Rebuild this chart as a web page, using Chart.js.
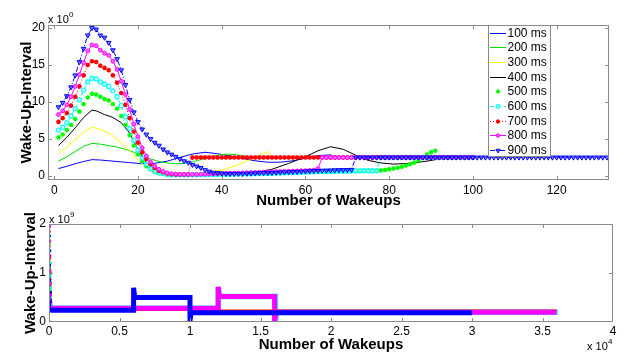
<!DOCTYPE html>
<html><head><meta charset="utf-8">
<script src="https://cdn.jsdelivr.net/npm/chart.js@4.4.0/dist/chart.umd.min.js"></script>
<style>
html,body{margin:0;padding:0;background:#fff;width:624px;height:352px;overflow:hidden}
canvas{position:absolute;left:0}
#c1{top:0}
#c2{top:205px}
</style></head>
<body>
<canvas id="c1" width="624" height="212"></canvas>
<canvas id="c2" width="624" height="147"></canvas>
<script>
// ---------- DATA (top panel) ----------
const seriesNames = ['100 ms','200 ms','300 ms','400 ms','500 ms','600 ms','700 ms','800 ms','900 ms'];
const xTicksTop = [0,20,40,60,80,100,120];
const yTicksTop = [0,5,10,15,20];

// line-only series: sparse samples (x, y)
const l100x = [1,3,5,7,9,11,13,15,18,21,24,27,30,33,36,39,42,45,48,51,54,57,60,63,66,67,100];
const l100y = [1.0,1.3,1.65,1.95,2.2,2.15,2.05,1.95,1.8,1.65,1.7,2.0,2.5,2.95,3.2,3.0,2.7,2.35,2.05,1.85,1.85,2.05,2.4,2.75,2.85,2.5,2.5];
const l200x = [1,3,5,7,9,11,13,15,17,19,21,23,25,27,29,31,33,35,37,39,41,43,45,47,100];
const l200y = [2.0,2.6,3.3,4.0,4.4,4.3,4.1,3.9,3.6,3.2,2.7,2.3,1.95,1.75,1.65,1.7,1.9,2.2,2.5,2.8,2.95,2.9,2.7,2.5,2.5];
const l300x = [1,3,5,7,9,11,13,15,17,19,21,23,25,28,32,36,40,43,46,49,51,52,100];
const l300y = [3.0,3.9,4.9,5.9,6.6,6.3,5.8,5.0,4.0,2.8,1.6,0.9,0.5,0.3,0.3,0.45,0.8,1.3,2.0,2.8,3.3,2.5,2.5];
const l400x = [1,3,5,7,9,10,12,14,16,18,20,22,24,26,28,32,38,44,48,52,56,60,63,66,69,72,75,78,81,85,89,92,94,95,96,100];
const l400y = [4.1,5.2,6.5,7.9,8.9,8.8,8.3,7.9,7.2,5.8,3.6,1.8,0.9,0.5,0.3,0.15,0.15,0.25,0.45,0.9,1.7,2.6,3.4,3.95,3.6,2.8,2.1,1.75,1.6,1.7,2.0,2.3,2.6,2.75,2.5,2.5];

// marker series: one value per wakeup (x = 1, 2, 3, ...)
const m500 = [5.2,5.6,6.2,6.9,7.7,8.7,9.7,10.6,11.1,11.0,
 10.7,10.4,10.2,9.7,9.1,8.1,6.9,5.5,4.1,2.9,
 2.0,1.3,0.9,0.6,0.4,0.3,0.2,0.15,0.15,0.15,
 0.15,0.15,0.16,0.17,0.18,0.19,0.2,0.2,0.21,0.22,
 0.23,0.24,0.25,0.26,0.27,0.28,0.29,0.3,0.31,0.32,
 0.34,0.36,0.38,0.4,0.42,0.44,0.46,0.48,0.5,0.52,
 0.54,0.56,0.58,0.6,0.6,0.62,0.62,0.64,0.64,0.66,
 0.66,0.68,0.68,0.7,0.7,0.7,0.7,0.75,0.8,0.9,
 1.0,1.1,1.25,1.4,1.6,1.8,2.1,2.5,2.9,3.2,3.4];
const m600 = [6.2,6.6,7.2,8.1,9.1,10.3,11.6,12.7,13.2,13.1,
 12.7,12.4,12.1,11.5,10.7,9.5,8.0,6.4,4.8,3.5,
 2.4,1.6,1.0,0.6,0.4,0.3,0.2,0.15,0.15,0.15,
 0.15,0.15,0.16,0.17,0.18,0.19,0.2,0.2,0.21,0.22,
 0.23,0.24,0.25,0.26,0.27,0.28,0.29,0.3,0.31,0.32,
 0.34,0.36,0.38,0.4,0.42,0.44,0.46,0.48,0.5,0.52,
 0.54,0.56,0.58,0.6,0.6,0.62,0.62,0.64,0.64,0.66,
 0.66,0.68,0.68,0.7,0.7,0.7,0.7,2.5,2.5,2.5,
 2.5,2.5,2.5,2.5,2.5,2.5,2.5,2.5,2.5,2.5,
 2.5,2.5,2.5,2.5,2.5,2.5,2.5,2.5,2.5,2.5];
const m700 = [7.3,7.8,8.5,9.5,10.7,12.1,13.6,15.0,15.5,15.4,
 14.9,14.6,14.3,13.6,12.6,11.2,9.6,7.8,6.0,4.5,
 3.2,2.3,1.6,1.1,0.7,0.5,0.35,0.25,0.2,0.2,
 0.2,0.2,2.5,2.5,2.5,2.5,2.5,2.5,2.5,2.5,
 2.5,2.5,2.5,2.5,2.5,2.5,2.5,2.5,2.5,2.5,
 2.5,2.5,2.5,2.5,2.5,2.5,2.5,2.5,2.5,2.5,
 2.5,2.5,2.5,2.5,2.5,2.5,2.5,2.5,2.5,2.5,
 2.5,2.5,2.5,2.5,2.5,2.5,2.5,2.5,2.5,2.5,
 2.5,2.5,2.5,2.5,2.5,2.5,2.5,2.5,2.5,2.5,
 2.5,2.5,2.5,2.5,2.5,2.5,2.5,2.5,2.5,2.5];
const m800 = [8.3,8.8,9.6,10.7,12.1,13.7,15.3,16.9,17.7,17.6,
 17.0,16.6,16.3,15.5,14.4,12.8,11.0,9.0,7.0,5.3,
 3.8,2.7,1.9,1.3,0.9,0.6,0.4,0.3,0.25,0.2,
 0.2,0.2,0.2,0.2,0.22,0.24,0.26,0.28,0.3,0.32,
 0.34,0.36,0.38,0.4,0.42,0.44,0.46,0.48,0.5,0.52,
 0.54,0.56,0.58,0.6,0.62,0.64,0.66,0.68,0.7,0.72,
 0.75,0.8,1.0,2.5,2.5,2.5,2.5,2.5,2.5,2.5,
 2.5,2.5,2.5,2.5,2.5,2.5,2.5,2.5,2.5,2.5,
 2.5,2.5,2.5,2.5,2.5,2.5,2.5,2.5,2.5,2.5,
 2.5,2.5,2.5,2.5,2.5,2.5,2.5,2.5,2.5,2.5];
const m900 = [9.3,9.9,10.8,12.0,13.6,15.4,17.2,19.0,20.0,19.8,
 19.0,18.7,18.0,17.0,15.8,14.3,12.3,10.3,8.6,7.3,
 6.3,5.6,5.0,4.5,4.1,3.6,3.2,2.9,2.6,2.3,
 2.0,1.8,1.5,1.3,1.1,0.8,0.6,0.45,0.4,0.35,
 0.3,0.3,0.3,0.3,0.3,0.32,0.34,0.36,0.38,0.4,
 0.42,0.44,0.46,0.48,0.5,0.52,0.55,0.58,0.6,0.62,
 0.65,0.68,0.7,0.72,0.74,0.76,0.78,0.8,0.8,0.82,
 0.84,2.5,2.5,2.5,2.5,2.5,2.5,2.5,2.5,2.5,
 2.5,2.5,2.5,2.5,2.5,2.5,2.5,2.5,2.5,2.5,
 2.5,2.5,2.5,2.5,2.5,2.5,2.5,2.5,2.5,2.5,
 2.5,2.5,2.5,2.5,2.5,2.5,2.5,2.5,2.5,2.5,
 2.5,2.5,2.5,2.5,2.5,2.5,2.5,2.5,2.5,2.5,
 2.5,2.5,2.5,2.5,2.5,2.5,2.5,2.5,2.5,2.5,
 2.5,2.5];

// ---------- DATA (bottom panel, x in wakeups, y in units of 1e9) ----------
const xTicksBot = [0,5000,10000,15000,20000,25000,30000,35000,40000];
const yTicksBot = [0,1e9,2e9];
const b100x = [0,10,20,30,45,60,80,100,4000];   const b100y = [0.9,0.75,0.6,0.5,0.42,0.35,0.3,0.25,0.25];
const b200x = [0,10,20,30,45,60,80,100,4000];   const b200y = [1.1,0.95,0.8,0.65,0.5,0.4,0.32,0.25,0.25];
const b300x = [0,10,20,30,45,60,80,100,4000];   const b300y = [1.3,1.05,0.85,0.7,0.55,0.42,0.33,0.25,0.25];
const b400x = [0,10,20,30,45,60,80,100,4000];   const b400y = [1.45,1.2,1.0,0.8,0.6,0.45,0.35,0.25,0.25];
const b500x = [0,10,20,30,45,60,80,100,4000];   const b500y = [1.6,1.35,1.1,0.85,0.65,0.5,0.35,0.25,0.25];
const b600x = [0,10,20,30,45,60,80,100,12000,12000,12080,16060,16060,16140,36080];
const b600y = [1.75,1.45,1.2,0.95,0.7,0.5,0.38,0.28,0.28,0.7,0.52,0.52,0.02,0.2,0.2];
const b700x = [0,10,20,30,45,60,80,100,36000];
const b700y = [1.85,1.55,1.3,1.0,0.75,0.55,0.4,0.24,0.24];
const b800x = [0,10,20,30,45,60,80,100,12000,12000,12080,16000,16000,16080,36000];
const b800y = [1.95,1.65,1.35,1.05,0.8,0.55,0.4,0.28,0.28,0.72,0.52,0.52,0.0,0.2,0.2];
const b900x = [0,0,10,20,30,45,60,80,100,6000,6000,6080,10000,10000,10080,30000];
const b900y = [0,2.0,1.75,1.45,1.15,0.85,0.6,0.4,0.24,0.24,0.7,0.5,0.5,0.02,0.19,0.19];

// ---------- STYLE ----------
const FONT = '"Liberation Sans", Arial, Helvetica, sans-serif';
Chart.defaults.font.family = FONT;
Chart.defaults.color = '#000';

const colors = ['#0000ff','#00e000','#ffff00','#000000','#00ff00','#00ffff','#ff0000','#ff00ff','#0000ff'];
const toXY = (xs, ys, k) => xs.map((x, i) => ({x: x, y: ys[i] * (k || 1)}));
const idx = (arr) => arr.map((v, i) => ({x: i + 1, y: v}));

const topDatasets = [
  {label: seriesNames[0], data: toXY(l100x, l100y), borderColor: colors[0], borderWidth: 1, pointRadius: 0},
  {label: seriesNames[1], data: toXY(l200x, l200y), borderColor: colors[1], borderWidth: 1, pointRadius: 0},
  {label: seriesNames[2], data: toXY(l300x, l300y), borderColor: colors[2], borderWidth: 1, pointRadius: 0},
  {label: seriesNames[3], data: toXY(l400x, l400y), borderColor: colors[3], borderWidth: 1, pointRadius: 0},
  {label: seriesNames[4], data: idx(m500), showLine: false, borderColor: colors[4], backgroundColor: colors[4],
    pointStyle: 'star', pointRadius: 2.2, pointBorderWidth: 1.5, pointBorderColor: colors[4]},
  {label: seriesNames[5], data: idx(m600), borderColor: colors[5], borderWidth: 1, borderDash: [4, 3],
    pointStyle: 'circle', pointRadius: 2.1, pointBorderWidth: 1.1, pointBackgroundColor: 'rgba(200,255,255,0.7)', pointBorderColor: colors[5]},
  {label: seriesNames[6], data: idx(m700), borderColor: colors[6], borderWidth: 1, borderDash: [1, 2],
    pointStyle: 'star', pointRadius: 2.3, pointBorderWidth: 1.4, pointBorderColor: colors[6], pointBackgroundColor: colors[6]},
  {label: seriesNames[7], data: idx(m800), borderColor: colors[7], borderWidth: 1,
    pointStyle: 'circle', pointRadius: 1.9, pointBorderWidth: 1, pointBackgroundColor: '#ff66ff', pointBorderColor: colors[7]},
  {label: seriesNames[8], data: idx(m900), borderColor: colors[8], borderWidth: 1, borderDash: [5, 2, 1, 2],
    pointStyle: 'triangle', rotation: 180, pointRadius: 2.7, pointBorderWidth: 1, pointBackgroundColor: 'rgba(90,90,255,0.7)', pointBorderColor: colors[8]}
];
topDatasets.forEach((d, i) => { d.order = 9 - i; d.fill = false; d.tension = 0; });

const E9 = 1e9;
const botWidths = [2, 2, 2, 2, 2, 5.5, 1.5, 5, 5];
const botDatasets = [b100x, b200x, b300x, b400x, b500x, b600x, b700x, b800x, b900x].map((xs, i) => {
  const ys = [b100y, b200y, b300y, b400y, b500y, b600y, b700y, b800y, b900y][i];
  const w = botWidths[i];
  return {
    label: seriesNames[i], data: toXY(xs, ys, E9), borderColor: colors[i], borderWidth: w,
    order: 9 - i, fill: false, tension: 0, borderJoinStyle: 'miter', borderCapStyle: 'butt',
    segment: {borderWidth: c => (c.p1.parsed.x < 150 ? 1 : w)},
    pointRadius: c => (c.raw && c.raw.x < 150 ? 1.8 : 0),
    pointStyle: i === 8 ? 'triangle' : (i === 6 || i === 4 ? 'star' : 'circle'),
    rotation: i === 8 ? 180 : 0,
    pointBackgroundColor: colors[i], pointBorderColor: colors[i], pointBorderWidth: 1
  };
});

// ---------- PLUGINS ----------
const matlabBox = {
  id: 'matlabBox',
  afterDatasetsDraw(chart, args, opts) {
    if (!opts.legend) return;
    const ctx = chart.ctx;
    const L = opts.legend;
    ctx.save();
    ctx.fillStyle = '#fff';
    ctx.fillRect(L.x, L.y, L.w, L.h);
    ctx.strokeStyle = '#8a8a8a'; ctx.lineWidth = 1; ctx.setLineDash([]);
    ctx.strokeRect(L.x + 0.5, L.y + 0.5, L.w, L.h);
    ctx.font = '12px ' + FONT;
    ctx.textBaseline = 'middle'; ctx.textAlign = 'left';
    chart.data.datasets.forEach((ds, i) => {
      const y = Math.round(L.y0 + i * L.dy) + 0.5;
      if (ds.showLine !== false) {
        ctx.strokeStyle = ds.borderColor; ctx.lineWidth = 1;
        ctx.setLineDash(ds.borderDash || []);
        ctx.beginPath(); ctx.moveTo(L.x + 2, y); ctx.lineTo(L.x + 18, y); ctx.stroke();
      }
      ctx.setLineDash([]);
      const r = typeof ds.pointRadius === 'number' ? ds.pointRadius : 0;
      if (r > 0 && Chart.helpers && Chart.helpers.drawPoint) {
        ctx.fillStyle = ds.pointBackgroundColor || ds.backgroundColor || ds.borderColor;
        ctx.strokeStyle = ds.pointBorderColor || ds.borderColor;
        ctx.lineWidth = ds.pointBorderWidth || 1;
        Chart.helpers.drawPoint(ctx, {pointStyle: ds.pointStyle, rotation: ds.rotation || 0, radius: r * 0.9, borderWidth: ds.pointBorderWidth || 1}, L.x + 10, y);
      }
      ctx.fillStyle = '#000';
      ctx.fillText(ds.label, L.x + 19.5, y);
    });
    ctx.restore();
  },
  afterDraw(chart, args, opts) {
    const {ctx, chartArea: a, scales: {x, y}} = chart;
    ctx.save();
    ctx.strokeStyle = '#8a8a8a'; ctx.lineWidth = 1; ctx.setLineDash([]);
    ctx.strokeRect(a.left + 0.5, a.top + 0.5, a.right - a.left - 1, a.bottom - a.top - 1);
    const tl = 4;
    ctx.beginPath();
    x.ticks.forEach(t => {
      const px = Math.round(x.getPixelForValue(t.value)) + 0.5;
      if (px < a.left + 1 || px > a.right - 1) return;
      ctx.moveTo(px, a.bottom); ctx.lineTo(px, a.bottom - tl);
      ctx.moveTo(px, a.top); ctx.lineTo(px, a.top + tl);
    });
    y.ticks.forEach(t => {
      const py = Math.round(y.getPixelForValue(t.value)) + 0.5;
      if (py < a.top + 1 || py > a.bottom - 1) return;
      ctx.moveTo(a.left, py); ctx.lineTo(a.left + tl, py);
      ctx.moveTo(a.right, py); ctx.lineTo(a.right - tl, py);
    });
    ctx.stroke();
    ctx.fillStyle = '#000'; ctx.textBaseline = 'alphabetic'; ctx.textAlign = 'left';
    (opts.exps || []).forEach(e => {
      ctx.font = '11px ' + FONT;
      ctx.fillText('x 10', e.x, e.y);
      ctx.font = '8px ' + FONT;
      ctx.fillText(e.sup, e.x + 21, e.y - 6);
    });
    ctx.restore();
  }
};

const tickFont = {family: FONT, size: 12};
const titleFont = {family: FONT, size: 15, weight: 'bold'};

new Chart(document.getElementById('c1'), {
  type: 'line',
  data: {datasets: topDatasets},
  plugins: [matlabBox],
  options: {
    responsive: false, animation: false, events: [],
    layout: {padding: {left: 0, top: 25, right: 15, bottom: 0}},
    plugins: {
      legend: {display: false}, tooltip: {enabled: false},
      matlabBox: {
        legend: {x: 488, y: 25, w: 62, h: 131, y0: 32.7, dy: 14.66},
        exps: [{x: 48, y: 22.5, sup: '0'}]
      }
    },
    scales: {
      x: {
        type: 'linear', min: -1.5, max: 132.5,
        afterBuildTicks: s => { s.ticks = xTicksTop.map(v => ({value: v})); },
        afterFit: s => { s.height = 32; },
        grid: {display: false, drawTicks: false}, border: {display: false},
        ticks: {padding: 3, font: tickFont, color: '#000', autoSkip: false, maxRotation: 0, minRotation: 0, callback: v => String(v)},
        title: {display: true, text: 'Number of Wakeups', font: titleFont, color: '#000', padding: {top: 0, bottom: 2}}
      },
      y: {
        type: 'linear', min: -0.55, max: 20.4,
        afterBuildTicks: s => { s.ticks = yTicksTop.map(v => ({value: v})); },
        afterFit: s => { s.width = 48; },
        grid: {display: false, drawTicks: false}, border: {display: false},
        ticks: {padding: 3, font: tickFont, color: '#000', callback: v => String(v)},
        title: {display: true, text: 'Wake-Up-Interval', font: titleFont, color: '#000', padding: {top: 18, bottom: 0}}
      }
    }
  }
});

new Chart(document.getElementById('c2'), {
  type: 'line',
  data: {datasets: botDatasets},
  plugins: [matlabBox],
  options: {
    responsive: false, animation: false, events: [],
    layout: {padding: {left: 0, top: 19, right: 11, bottom: 0}},
    plugins: {
      legend: {display: false}, tooltip: {enabled: false},
      matlabBox: {
        exps: [{x: 49, y: 18, sup: '9'}, {x: 587, y: 145, sup: '4'}]
      }
    },
    scales: {
      x: {
        type: 'linear', min: 0, max: 40000,
        afterBuildTicks: s => { s.ticks = xTicksBot.map(v => ({value: v})); },
        afterFit: s => { s.height = 30; },
        grid: {display: false, drawTicks: false}, border: {display: false},
        ticks: {padding: 2, font: tickFont, color: '#000', autoSkip: false, maxRotation: 0, minRotation: 0, callback: v => String(v / 1e4)},
        title: {display: true, text: 'Number of Wakeups', font: titleFont, color: '#000', padding: {top: 0, bottom: -2}}
      },
      y: {
        type: 'linear', min: 0, max: 2e9,
        afterBuildTicks: s => { s.ticks = yTicksBot.map(v => ({value: v})); },
        afterFit: s => { s.width = 49; },
        grid: {display: false, drawTicks: false}, border: {display: false},
        ticks: {padding: 3, font: tickFont, color: '#000', callback: v => String(v / 1e9)},
        title: {display: true, text: 'Wake-Up-Interval', font: titleFont, color: '#000', padding: {top: 22, bottom: 0}}
      }
    }
  }
});
</script>
</body></html>
